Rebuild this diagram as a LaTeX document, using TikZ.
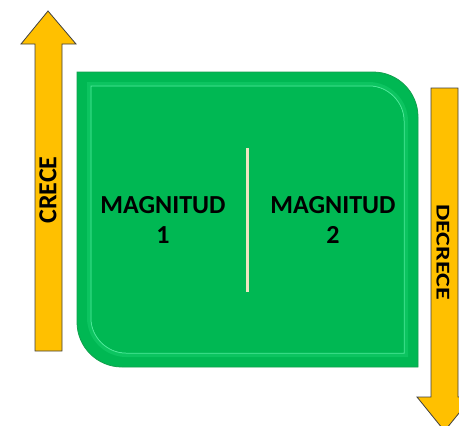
\documentclass[tikz,border=0pt]{standalone}
\usepackage{fontspec}
\setmainfont{Carlito}
\usepackage{graphicx}
\definecolor{arrowgold}{HTML}{FFC000}
\definecolor{arrowedge}{HTML}{404040}
\definecolor{boxgreen}{HTML}{00B853}
\definecolor{boxrim}{HTML}{13A04E}
\definecolor{bevellight}{HTML}{4CE898}
\definecolor{bevelmid}{HTML}{0CC460}
\definecolor{divider}{HTML}{EFE6C2}
\tikzset{
  bigarrow/.style={fill=arrowgold, draw=arrowedge, line width=0.8pt, line join=miter},
  magtext/.style={align=center, font=\bfseries\fontsize{26}{30}\selectfont, inner sep=0pt},
  arrowtext/.style={font=\bfseries\fontsize{26}{30}\selectfont, inner sep=0pt}
}
\begin{document}
\begin{tikzpicture}[x=1pt,y=-1pt]
\useasboundingbox (0,0) rectangle (459,426);
\clip (0,0) rectangle (459,426);
\fill[white] (0,0) rectangle (459,426);
% left arrow (up)
\draw[bigarrow] (35,351) -- (35,44) -- (21,44) -- (48,11) -- (76,44) -- (62,44) -- (62,351) -- cycle;
% right arrow (down)
\draw[bigarrow] (431,88) -- (458,88) -- (458,397) -- (472,397) -- (444.5,431) -- (417,397) -- (431,397) -- cycle;
% green box
\fill[boxgreen, draw=boxrim, line width=0.8pt]
  (77,72) -- (373,72) .. controls (397.9,72) and (418,92.1) .. (418,117)
  -- (418,367) -- (122,367) .. controls (97.1,367) and (77,346.9) .. (77,322) -- cycle;
% bevel
\draw[bevelmid, line width=4pt]
  (89,84) -- (369,84) .. controls (389,84) and (406,101) .. (406,121)
  -- (406,355) -- (126,355) .. controls (106,355) and (89,338) .. (89,318) -- cycle;
\draw[bevellight, line width=1pt]
  (91,86) -- (369,86) .. controls (388,86) and (404,102) .. (404,121)
  -- (404,353) -- (126,353) .. controls (107,353) and (91,337) .. (91,318) -- cycle;
\fill[boxgreen]
  (91.5,86.5) -- (369,86.5) .. controls (387.5,86.5) and (403.5,102.5) .. (403.5,121)
  -- (403.5,352.5) -- (126,352.5) .. controls (107.5,352.5) and (91.5,336.5) .. (91.5,318) -- cycle;
% divider
\coordinate (dtop) at (247,148);
\coordinate (dbot) at (247,292);
\draw[divider, line width=3pt] (dtop) -- (dbot);
% texts
\node[magtext] (m1) at (163,220) {MAGNITUD\\1};
\node[magtext] (m2) at (333,220) {MAGNITUD\\2};
\node[arrowtext, rotate=90] (crece) at (48,190) {CRECE};
\node[arrowtext, rotate=-90] (decrece) at (443,252) {\scalebox{1}[0.75]{DECRECE}};
\end{tikzpicture}
\end{document}
